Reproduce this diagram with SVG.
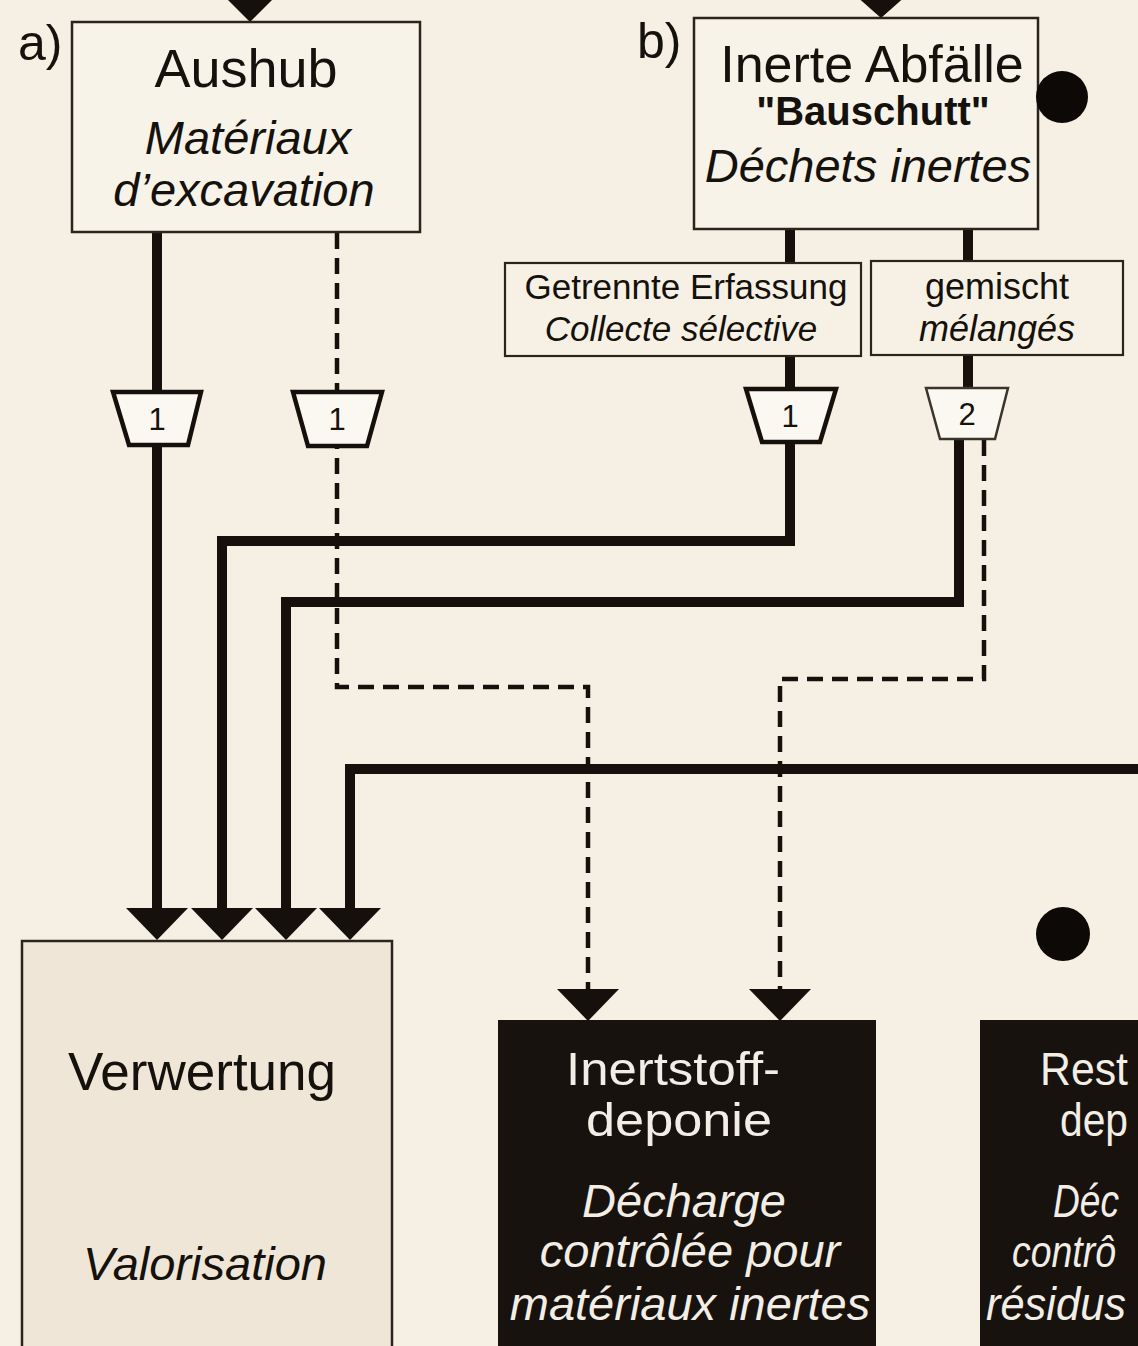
<svg xmlns="http://www.w3.org/2000/svg" width="1138" height="1346" viewBox="0 0 1138 1346">
<style>
text{font-family:"Liberation Sans",Arial,Helvetica,sans-serif;fill:#15110c}
.it{font-style:italic}
.mid{text-anchor:middle}
.box{fill:#f8f3e8;stroke:#2a241d;stroke-width:2.5}
.lbl{fill:#f7f1e5;stroke:#2a241d;stroke-width:2.2}
.solid{fill:none;stroke:#15100b;stroke-width:10;stroke-linejoin:miter}
.arr{marker-end:url(#ah)}
.dash{fill:none;stroke:#15100b;stroke-width:4.5;stroke-dasharray:16 9}
.trap{fill:#fbf8f1;stroke:#15100b;stroke-width:4.5;stroke-linejoin:miter}
.trap2{fill:#fbf8f1;stroke:#3a342d;stroke-width:2.5}
.dark{fill:#17120d}
.wt{fill:#f3eee5}
.dot{fill:#0c0906}
</style>
<defs>
<marker id="ah" markerUnits="userSpaceOnUse" markerWidth="32" markerHeight="64" refX="0" refY="32" orient="auto" overflow="visible">
<path d="M0,1 L32,32 L0,63 z" fill="#15100b"/>
</marker>
</defs>
<rect width="1138" height="1346" fill="#f6efe3"/>

<g id="connectors">
<polygon points="224,-4 276,-4 250,22" fill="#15100b"/>
<polygon points="855,-5 907,-5 881,18" fill="#15100b"/>
<path class="solid arr" d="M157,233 V908"/>
<path class="dash arr" d="M337,233 V687 H588 V989"/>
<path class="solid arr" d="M790,229 V541 H222 V908"/>
<path class="solid" d="M968,229 V392"/>
<path class="solid arr" d="M959,438 V602 H286 V908"/>
<path class="dash arr" d="M984,440 V679 H780 V989"/>
<path class="solid arr" d="M1150,769 H350 V908"/>
</g>

<g id="label-a"><text x="18" y="60" font-size="50">a)</text></g>
<g id="label-b"><text x="637" y="58" font-size="50">b)</text></g>

<g id="node-aushub">
<rect class="box" x="72" y="22" width="348" height="210"/>
<text class="mid" x="246" y="87" font-size="54">Aushub</text>
<text class="mid it" x="248" y="154" font-size="47">Matériaux</text>
<text class="mid it" x="244" y="206" font-size="47">d’excavation</text>
</g>

<g id="node-inerte">
<rect class="box" x="694" y="18" width="344" height="211"/>
<text class="mid" x="872" y="82" font-size="52">Inerte Abfälle</text>
<text class="mid" x="873" y="125" font-size="40" font-weight="bold">"Bauschutt"</text>
<text class="mid it" x="868" y="182" font-size="47">Déchets inertes</text>
</g>

<g id="dot-1"><circle class="dot" cx="1062" cy="97" r="26"/></g>
<g id="dot-2"><circle class="dot" cx="1063" cy="934" r="27"/></g>

<g id="node-getrennte">
<rect class="lbl" x="505" y="263" width="356" height="93"/>
<text class="mid" x="686" y="299" font-size="35">Getrennte Erfassung</text>
<text class="mid it" x="681" y="341" font-size="35">Collecte sélective</text>
</g>

<g id="node-gemischt">
<rect class="lbl" x="871" y="261" width="252" height="94"/>
<text class="mid" x="997" y="299" font-size="36">gemischt</text>
<text class="mid it" x="997" y="341" font-size="36">mélangés</text>
</g>

<g id="trap-a1">
<polygon class="trap" points="113,392 201,392 188,445 129,445"/>
<text class="mid" x="157" y="430" font-size="31">1</text>
</g>
<g id="trap-a2">
<polygon class="trap" points="293,392 382,392 367,446 308,446"/>
<text class="mid" x="337" y="430" font-size="31">1</text>
</g>
<g id="trap-b1">
<polygon class="trap" points="746,389 836,389 820,442 762,442"/>
<text class="mid" x="790" y="427" font-size="31">1</text>
</g>
<g id="trap-b2">
<polygon class="trap2" points="926,388 1008,388 995,439 940,439"/>
<text class="mid" x="967" y="425" font-size="31">2</text>
</g>

<g id="node-verwertung">
<rect class="box" x="22" y="941" width="370" height="420" style="fill:#efe6d7"/>
<text class="mid" x="202" y="1090" font-size="53">Verwertung</text>
<text class="mid it" x="205" y="1280" font-size="47">Valorisation</text>
</g>

<g id="node-inertstoffdeponie">
<rect class="dark" x="498" y="1020" width="378" height="340"/>
<text class="mid wt" x="673" y="1085" font-size="47" textLength="214" lengthAdjust="spacingAndGlyphs">Inertstoff-</text>
<text class="mid wt" x="679" y="1136" font-size="47" textLength="186" lengthAdjust="spacingAndGlyphs">deponie</text>
<text class="mid it wt" x="684" y="1217" font-size="47">Décharge</text>
<text class="mid it wt" x="690" y="1267" font-size="47">contrôlée pour</text>
<text class="mid it wt" x="690" y="1320" font-size="47">matériaux inertes</text>
</g>

<g id="node-reststoffdeponie">
<rect class="dark" x="980" y="1020" width="170" height="340"/>
<text class="wt" x="1040" y="1085" font-size="47" textLength="88" lengthAdjust="spacingAndGlyphs">Rest</text>
<text class="wt" x="1060" y="1136" font-size="47" textLength="68" lengthAdjust="spacingAndGlyphs">dep</text>
<text class="it wt" x="1053" y="1217" font-size="47" textLength="66" lengthAdjust="spacingAndGlyphs">Déc</text>
<text class="it wt" x="1012" y="1267" font-size="45" textLength="104" lengthAdjust="spacingAndGlyphs">contrô</text>
<text class="it wt" x="986" y="1320" font-size="47" textLength="140" lengthAdjust="spacingAndGlyphs">résidus</text>
</g>
</svg>
